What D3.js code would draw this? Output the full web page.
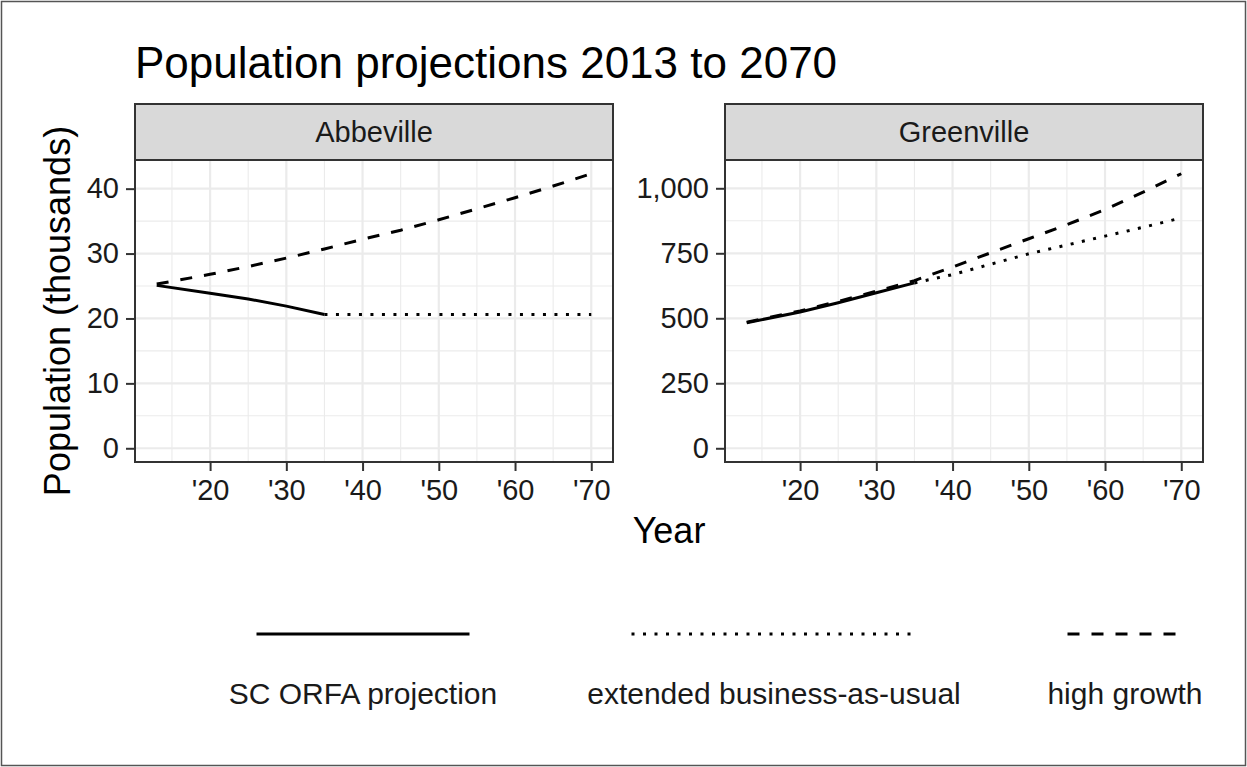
<!DOCTYPE html>
<html>
<head>
<meta charset="utf-8">
<script src="https://cdn.jsdelivr.net/npm/d3@7"></script>
<style>
  body { margin: 0; background: #fff; }
  svg { font-family: 'Liberation Sans', Arial, sans-serif; display: block; }
</style>
</head>
<body>
<div id="viz"></div>
<script>
// counties (facets) and the three series
const counties = ['Abbeville', 'Greenville'];
const seriesNames = ['SC ORFA projection', 'extended business-as-usual', 'high growth'];

const orfaYears = [2013, 2020, 2025, 2030, 2035];
const bauYears = [2035, 2040, 2045, 2050, 2055, 2060, 2065, 2070];
const highYears = [2013, 2020, 2025, 2030, 2035, 2040, 2045, 2050, 2055, 2060, 2065, 2070];

// population, thousands
const abbevilleOrfa = [25.1, 23.9, 23.0, 21.9, 20.6];
const abbevilleBau = [20.6, 20.6, 20.6, 20.6, 20.6, 20.6, 20.6, 20.6];
const abbevilleHigh = [25.3, 26.8, 28.0, 29.3, 30.7, 32.2, 33.6, 35.2, 36.9, 38.6, 40.4, 42.3];

const greenvilleOrfa = [483, 524, 560, 598, 636];
const greenvilleBau = [636, 668, 708, 748, 782, 816, 850, 886];
const greenvilleHigh = [485, 528, 565, 604, 645, 697, 752, 806, 860, 918, 985, 1056];

const xTicks = [2020, 2030, 2040, 2050, 2060, 2070];
const xMinor = [2015, 2025, 2035, 2045, 2055, 2065];
const yTicks = {
  Abbeville: [0, 10, 20, 30, 40],
  Greenville: [0, 250, 500, 750, 1000],
};
const yMinor = {
  Abbeville: [5, 15, 25, 35],
  Greenville: [125, 375, 625, 875],
};

const data = {
  Abbeville: [
    {name: seriesNames[0], years: orfaYears, values: abbevilleOrfa},
    {name: seriesNames[1], years: bauYears, values: abbevilleBau},
    {name: seriesNames[2], years: highYears, values: abbevilleHigh},
  ],
  Greenville: [
    {name: seriesNames[0], years: orfaYears, values: greenvilleOrfa},
    {name: seriesNames[1], years: bauYears, values: greenvilleBau},
    {name: seriesNames[2], years: highYears, values: greenvilleHigh},
  ],
};

const width = 1247;
const height = 767;
const lineWidth = 3;
const dashes = {
  'SC ORFA projection': null,
  'extended business-as-usual': '3,8.5',
  'high growth': '12,12',
};
const textColor = '#1a1a1a';
const panelTop = 160;
const panelH = 302;
const panelW = 478;
const stripH = 56;
const panelLeft = {Abbeville: 135, Greenville: 725};

const svg = d3.select('#viz').append('svg')
  .attr('width', width)
  .attr('height', height);

// outer frame
svg.append('rect')
  .attr('x', 1.5).attr('y', 1.5)
  .attr('width', width - 3).attr('height', height - 3)
  .style('fill', 'none')
  .style('stroke', '#555')
  .style('stroke-width', 1.5);

// title
svg.append('text')
  .attr('x', 135).attr('y', 78)
  .style('font-size', '44px')
  .style('fill', '#000')
  .text('Population projections 2013 to 2070');

// ggplot style 5% expansion
const expand = (lo, hi) => [lo - (hi - lo) * 0.05, hi + (hi - lo) * 0.05];
const xDomain = expand(d3.min(highYears), d3.max(highYears));

counties.forEach(county => {
  const x0 = panelLeft[county];
  const series = data[county];
  const yMax = d3.max(series, s => d3.max(s.values));

  const x = d3.scaleLinear().domain(xDomain).range([x0, x0 + panelW]);
  const y = d3.scaleLinear().domain(expand(0, yMax)).range([panelTop + panelH, panelTop]);

  const g = svg.append('g');

  // grid lines
  g.selectAll('.minor-x').data(xMinor).join('line')
    .attr('x1', d => x(d)).attr('x2', d => x(d))
    .attr('y1', panelTop).attr('y2', panelTop + panelH)
    .style('stroke', '#ebebeb').style('stroke-width', 1.1);
  g.selectAll('.minor-y').data(yMinor[county]).join('line')
    .attr('x1', x0).attr('x2', x0 + panelW)
    .attr('y1', d => y(d)).attr('y2', d => y(d))
    .style('stroke', '#ebebeb').style('stroke-width', 1.1);
  g.selectAll('.major-x').data(xTicks).join('line')
    .attr('x1', d => x(d)).attr('x2', d => x(d))
    .attr('y1', panelTop).attr('y2', panelTop + panelH)
    .style('stroke', '#ebebeb').style('stroke-width', 2.2);
  g.selectAll('.major-y').data(yTicks[county]).join('line')
    .attr('x1', x0).attr('x2', x0 + panelW)
    .attr('y1', d => y(d)).attr('y2', d => y(d))
    .style('stroke', '#ebebeb').style('stroke-width', 2.2);

  // series lines
  const line = d3.line()
    .x(d => x(d[0]))
    .y(d => y(d[1]));

  series.forEach(s => {
    g.append('path')
      .attr('d', line(d3.zip(s.years, s.values)))
      .style('fill', 'none')
      .style('stroke', '#000')
      .style('stroke-width', lineWidth)
      .style('stroke-dasharray', dashes[s.name]);
  });

  // panel border
  g.append('rect')
    .attr('x', x0).attr('y', panelTop)
    .attr('width', panelW).attr('height', panelH)
    .style('fill', 'none').style('stroke', '#333').style('stroke-width', 2);

  // strip
  g.append('rect')
    .attr('x', x0).attr('y', panelTop - stripH)
    .attr('width', panelW).attr('height', stripH)
    .style('fill', '#d9d9d9').style('stroke', '#333').style('stroke-width', 2);
  g.append('text')
    .attr('x', x0 + panelW / 2).attr('y', panelTop - stripH / 2)
    .attr('dy', '0.36em')
    .attr('text-anchor', 'middle')
    .style('font-size', '29px')
    .style('fill', textColor)
    .text(county);

  // axes
  const xAxis = g.append('g')
    .attr('transform', `translate(0,${panelTop + panelH})`)
    .call(d3.axisBottom(x).tickValues(xTicks).tickSize(9).tickPadding(8)
      .tickFormat(d => "'" + String(d).slice(2)));
  const yAxis = g.append('g')
    .attr('transform', `translate(${x0},0)`)
    .call(d3.axisLeft(y).tickValues(yTicks[county]).tickSize(9).tickPadding(7)
      .tickFormat(d3.format(',')));

  [xAxis, yAxis].forEach(ax => {
    ax.select('.domain').remove();
    ax.selectAll('.tick line').style('stroke', '#333').style('stroke-width', 2);
    ax.selectAll('.tick text')
      .style('font-size', '29px')
      .style('fill', textColor)
      .style('font-family', "'Liberation Sans', Arial, sans-serif");
  });
});

// axis titles
svg.append('text')
  .attr('x', (135 + 725 + panelW) / 2).attr('y', 543)
  .attr('text-anchor', 'middle')
  .style('font-size', '36px')
  .style('fill', '#000')
  .text('Year');

svg.append('text')
  .attr('transform', `translate(70,${panelTop + panelH / 2}) rotate(-90)`)
  .attr('text-anchor', 'middle')
  .style('font-size', '36px')
  .style('fill', '#000')
  .text('Population (thousands)');

// legend: key line above, label below
const legendCenters = [363, 774, 1125];
const legendKeyW = [213, 285, 115];
const legend = svg.append('g');
seriesNames.forEach((name, i) => {
  const cx = legendCenters[i];
  legend.append('line')
    .attr('x1', cx - legendKeyW[i] / 2).attr('x2', cx + legendKeyW[i] / 2)
    .attr('y1', 634).attr('y2', 634)
    .style('stroke', '#000')
    .style('stroke-width', lineWidth)
    .style('stroke-dasharray', dashes[name]);
  legend.append('text')
    .attr('x', cx).attr('y', 704)
    .attr('text-anchor', 'middle')
    .style('font-size', '30px')
    .style('fill', textColor)
    .text(name);
});
</script>
</body>
</html>
